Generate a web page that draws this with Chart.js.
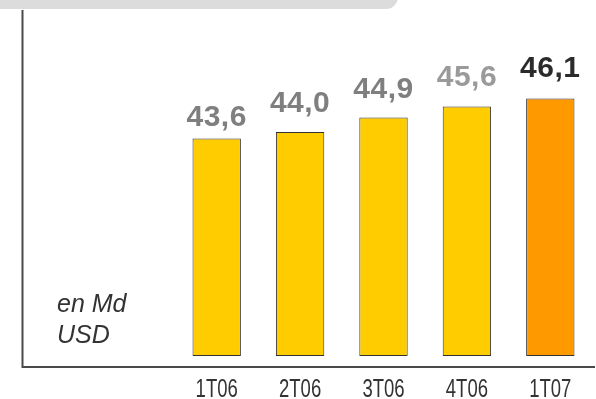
<!DOCTYPE html>
<html>
<head>
<meta charset="utf-8">
<script src="https://cdn.jsdelivr.net/npm/chart.js@4"></script>
<style>
  html, body { margin: 0; padding: 0; background: #fff; }
  #wrap { width: 596px; height: 399px; }
</style>
</head>
<body>
<div id="wrap"><canvas id="chart" width="596" height="399"></canvas></div>
<script>
// chart data
const quarters = ['1T06', '2T06', '3T06', '4T06', '1T07'];
const revenue = [43.6, 44.0, 44.9, 45.6, 46.1];
const barColors = ['#FFCC00', '#FFCC00', '#FFCC00', '#FFCC00', '#FF9900'];
const labelColors = ['#7f7f7f', '#7f7f7f', '#7f7f7f', '#9a9a9a', '#2b2b2b'];
const unitLines = ['en Md', 'USD'];

// gap between bar top and label baseline (labels were hand placed in the original)
const labelGap = [12, 20, 20, 20, 21];

// value labels above each bar
const valueLabels = {
  id: 'valueLabels',
  afterDatasetsDraw(chart) {
    const ctx = chart.ctx;
    const meta = chart.getDatasetMeta(0);
    ctx.save();
    ctx.font = 'bold 30px "Liberation Sans", Arial, sans-serif';
    ctx.letterSpacing = '0.5px';
    ctx.textAlign = 'center';
    ctx.textBaseline = 'alphabetic';
    meta.data.forEach((bar, i) => {
      ctx.fillStyle = labelColors[i];
      ctx.fillText(revenue[i].toFixed(1).replace('.', ','), bar.x, bar.y - labelGap[i]);
    });
    ctx.restore();
  }
};

// condensed category labels (no narrow font installed, so squeeze it)
const quarterLabels = {
  id: 'quarterLabels',
  afterDraw(chart) {
    const ctx = chart.ctx;
    const xs = chart.scales.x;
    ctx.save();
    ctx.font = '25px "Liberation Sans", Arial, sans-serif';
    ctx.fillStyle = '#333';
    ctx.textAlign = 'center';
    ctx.textBaseline = 'alphabetic';
    quarters.forEach((q, i) => {
      const x = xs.getPixelForTick(i);
      ctx.save();
      ctx.translate(x, 396.5);
      ctx.scale(0.74, 1);
      ctx.fillText(q, 0, 0);
      ctx.restore();
    });
    ctx.restore();
  }
};

// frame, grey tab and unit text
const decor = {
  id: 'decor',
  beforeDraw(chart) {
    const ctx = chart.ctx;
    const area = chart.chartArea;
    ctx.save();
    ctx.fillStyle = '#dcdcdc';
    ctx.beginPath();
    ctx.roundRect(-20, -20, 418, 29, 12);
    ctx.fill();

    ctx.strokeStyle = '#4a4a4a';
    ctx.lineWidth = 2;
    ctx.beginPath();
    ctx.moveTo(22.5, 10);
    ctx.lineTo(22.5, area.bottom);
    ctx.lineTo(595, area.bottom);
    ctx.stroke();

    ctx.fillStyle = '#333';
    ctx.font = 'italic 25px "Liberation Sans", Arial, sans-serif';
    ctx.textAlign = 'left';
    ctx.textBaseline = 'alphabetic';
    ctx.fillText(unitLines[0], 57, 312);
    ctx.fillText(unitLines[1], 57, 343);
    ctx.restore();
  }
};

new Chart(document.getElementById('chart'), {
  type: 'bar',
  data: {
    labels: quarters,
    datasets: [{
      data: revenue,
      base: 30,
      backgroundColor: barColors,
      borderColor: '#333',
      borderWidth: 1,
      borderSkipped: false,
      categoryPercentage: 1,
      barPercentage: 0.58
    }]
  },
  options: {
    responsive: false,
    animation: false,
    layout: { padding: { left: 175, right: 4, top: 20, bottom: 0 } },
    plugins: {
      legend: { display: false },
      tooltip: { enabled: false }
    },
    scales: {
      x: {
        grid: { display: false, drawTicks: false },
        border: { display: false },
        ticks: { display: false },
        afterFit(scale) { scale.height = 32; }
      },
      y: {
        display: false,
        min: 29.3125,
        max: 51
      }
    }
  },
  plugins: [decor, valueLabels, quarterLabels]
});
</script>
</body>
</html>
